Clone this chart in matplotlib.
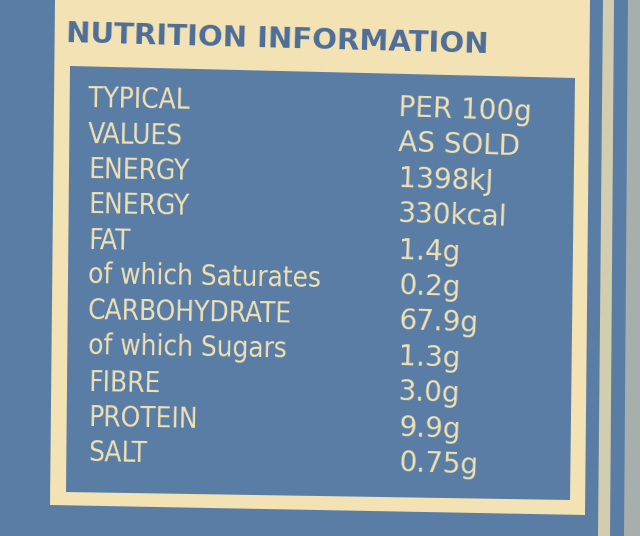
import matplotlib.pyplot as plt
from matplotlib.patches import Polygon

labels = ["TYPICAL", "VALUES", "ENERGY", "ENERGY", "FAT", "of which Saturates",
          "CARBOHYDRATE", "of which Sugars", "FIBRE", "PROTEIN", "SALT"]
values = ["PER 100g", "AS SOLD", "1398kJ", "330kcal", "1.4g", "0.2g",
          "67.9g", "1.3g", "3.0g", "9.9g", "0.75g"]
title = "NUTRITION INFORMATION"

blue = "#5a7da5"
cream = "#f2e2b4"

fig = plt.figure(figsize=(6.4, 5.36), dpi=100)
ax = fig.add_axes([0, 0, 1, 1])
ax.set_xlim(0, 640)
ax.set_ylim(536, 0)
ax.axis("off")
fig.patch.set_facecolor(blue)

# cream label panel with blue inner box
ax.add_patch(Polygon([(55, 0), (590, 0), (585, 515), (50, 505)], closed=True,
                     fc=cream, ec="none"))
ax.add_patch(Polygon([(70, 66), (575, 78), (570, 500), (66, 492)], closed=True,
                     fc=blue, ec="none"))
# stripes on right edge
ax.add_patch(Polygon([(603, 0), (614, 0), (610, 536), (598, 536)], closed=True,
                     fc=cream, ec="none", alpha=0.8))
ax.add_patch(Polygon([(628, 0), (640, 0), (640, 536), (624, 536)], closed=True,
                     fc=cream, ec="none", alpha=0.5))

ax.text(66, 40, title, color="#4d6e98", fontsize=21, fontweight="bold",
        ha="left", va="center", rotation=-1.5)

y0, dy = 100, 36
for i, (lab, val) in enumerate(zip(labels, values)):
    y = y0 + i * dy - (i * 0.6)
    ax.text(88, y, lab, color=cream, fontsize=20, ha="left", va="center",
            rotation=-1, fontstretch="condensed")
    ax.text(398, y + 10, val, color=cream, fontsize=20, ha="left",
            va="center", rotation=-2)

fig.savefig("out.png", dpi=100, facecolor=blue)
